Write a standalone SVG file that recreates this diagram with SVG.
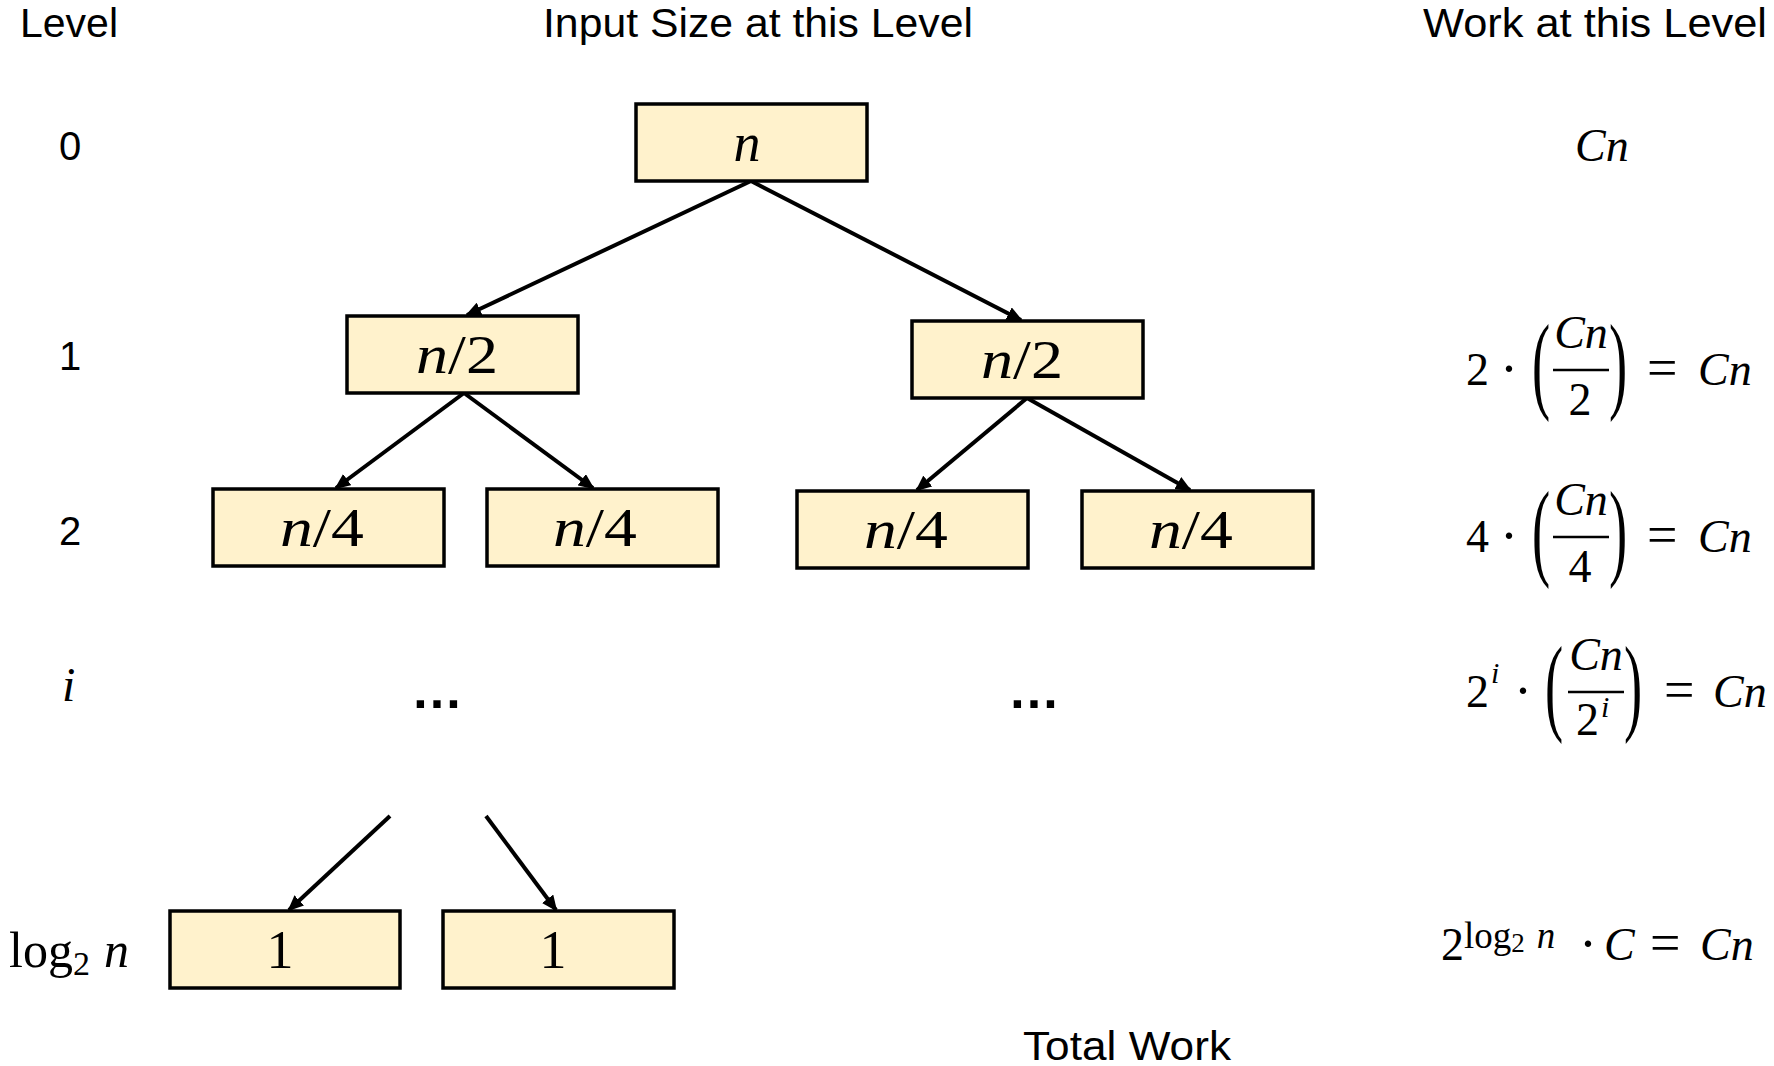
<svg xmlns="http://www.w3.org/2000/svg" width="1774" height="1066" viewBox="0 0 1774 1066">
<style>
.hdr{font-family:"Liberation Sans",Arial,sans-serif;font-size:41px;fill:#000}
.lvl{font-family:"Liberation Sans",Arial,sans-serif;font-size:40px;fill:#000;text-anchor:middle}
.m{font-family:"Liberation Serif","Times New Roman",serif;font-size:46px;fill:#000}
.eq{font-size:54px}
.dot{font-size:54px}
.par{font-size:109px}
.nl{font-family:"Liberation Serif","Times New Roman",serif;font-size:54px;fill:#000;text-anchor:middle}
.it{font-style:italic}
.box{fill:#FFF2CC;stroke:#000;stroke-width:3.5}
.edge{stroke:#000;stroke-width:4;fill:none;marker-end:url(#ah)}
.frac{stroke:#000;stroke-width:2.5}
.dots{font-family:"Liberation Sans",Arial,sans-serif;font-size:52px;font-weight:bold;text-anchor:middle}
</style>
<defs>
<marker id="ah" markerUnits="userSpaceOnUse" markerWidth="16" markerHeight="14" refX="14" refY="7" orient="auto">
<path d="M0,0 L16,7 L0,14 Z" fill="#000"/>
</marker>
</defs>
<rect width="1774" height="1066" fill="#fff"/>

<g id="headers">
<text class="hdr" x="20" y="37" textLength="98" lengthAdjust="spacingAndGlyphs">Level</text>
<text class="hdr" x="543" y="37" textLength="430" lengthAdjust="spacingAndGlyphs">Input Size at this Level</text>
<text class="hdr" x="1423" y="37" textLength="344" lengthAdjust="spacingAndGlyphs">Work at this Level</text>
<text class="hdr" x="1023" y="1060" textLength="208" lengthAdjust="spacingAndGlyphs">Total Work</text>
</g>

<g id="levels">
<text class="lvl" x="70" y="160">0</text>
<text class="lvl" x="70" y="370">1</text>
<text class="lvl" x="70" y="545">2</text>
<text class="m it" x="62" y="701" style="font-size:48px">i</text>
<text class="m" x="9" y="967" style="font-size:50px">log<tspan style="font-size:34px" dy="8">2</tspan><tspan class="it" dx="14" dy="-8" style="font-size:50px">n</tspan></text>
</g>

<g id="connectors">
<line class="edge" x1="751" y1="181" x2="467" y2="315"/>
<line class="edge" x1="751" y1="181" x2="1021" y2="320"/>
<line class="edge" x1="464" y1="393" x2="336" y2="488"/>
<line class="edge" x1="464" y1="393" x2="593" y2="488"/>
<line class="edge" x1="1027" y1="398" x2="917" y2="490"/>
<line class="edge" x1="1027" y1="398" x2="1190" y2="490"/>
<line class="edge" x1="390" y1="816" x2="289" y2="910"/>
<line class="edge" x1="486" y1="816" x2="556" y2="910"/>
</g>

<g id="node-root"><rect class="box" x="636" y="104" width="231" height="77"/><text class="nl it" x="747" y="161">n</text></g>
<g id="node-l1a"><rect class="box" x="347" y="316" width="231" height="77"/><text class="nl" x="457" y="373" textLength="82" lengthAdjust="spacingAndGlyphs"><tspan class="it">n</tspan>/2</text></g>
<g id="node-l1b"><rect class="box" x="912" y="321" width="231" height="77"/><text class="nl" x="1022" y="378" textLength="82" lengthAdjust="spacingAndGlyphs"><tspan class="it">n</tspan>/2</text></g>
<g id="node-l2a"><rect class="box" x="213" y="489" width="231" height="77"/><text class="nl" x="322" y="546" textLength="84" lengthAdjust="spacingAndGlyphs"><tspan class="it">n</tspan>/4</text></g>
<g id="node-l2b"><rect class="box" x="487" y="489" width="231" height="77"/><text class="nl" x="595" y="546" textLength="84" lengthAdjust="spacingAndGlyphs"><tspan class="it">n</tspan>/4</text></g>
<g id="node-l2c"><rect class="box" x="797" y="491" width="231" height="77"/><text class="nl" x="906" y="548" textLength="84" lengthAdjust="spacingAndGlyphs"><tspan class="it">n</tspan>/4</text></g>
<g id="node-l2d"><rect class="box" x="1082" y="491" width="231" height="77"/><text class="nl" x="1191" y="548" textLength="84" lengthAdjust="spacingAndGlyphs"><tspan class="it">n</tspan>/4</text></g>
<g id="node-leafa"><rect class="box" x="170" y="911" width="230" height="77"/><text class="nl" x="280" y="968">1</text></g>
<g id="node-leafb"><rect class="box" x="443" y="911" width="231" height="77"/><text class="nl" x="553" y="968">1</text></g>

<g id="ellipses">
<text class="dots" x="437" y="708">…</text>
<text class="dots" x="1034" y="708">…</text>
</g>

<g id="work">
<text class="m it" x="1575" y="161">Cn</text>

<g id="work1">
<text class="m" x="1466" y="385">2</text>
<text class="m dot" x="1500" y="387">·</text>
<text class="m par" transform="translate(1532,399) scale(0.5,1)">(</text>
<text class="m it" x="1581" y="348" text-anchor="middle">Cn</text>
<line class="frac" x1="1553" y1="370" x2="1609" y2="370"/>
<text class="m" x="1580" y="415" text-anchor="middle">2</text>
<text class="m par" transform="translate(1609,399) scale(0.5,1)">)</text>
<text class="m eq" x="1647" y="386">=</text>
<text class="m it" x="1698" y="385">Cn</text>
</g>

<g id="work2" transform="translate(0,167)">
<text class="m" x="1466" y="385">4</text>
<text class="m dot" x="1500" y="387">·</text>
<text class="m par" transform="translate(1532,399) scale(0.5,1)">(</text>
<text class="m it" x="1581" y="348" text-anchor="middle">Cn</text>
<line class="frac" x1="1553" y1="370" x2="1609" y2="370"/>
<text class="m" x="1580" y="415" text-anchor="middle">4</text>
<text class="m par" transform="translate(1609,399) scale(0.5,1)">)</text>
<text class="m eq" x="1647" y="386">=</text>
<text class="m it" x="1698" y="385">Cn</text>
</g>

<g id="worki">
<text class="m" x="1466" y="707">2<tspan class="it" style="font-size:30px" dy="-24" dx="2">i</tspan></text>
<text class="m dot" x="1514" y="709">·</text>
<text class="m par" transform="translate(1545,721) scale(0.5,1)">(</text>
<text class="m it" x="1596" y="670" text-anchor="middle">Cn</text>
<line class="frac" x1="1568" y1="692" x2="1624" y2="692"/>
<text class="m" x="1576" y="735">2<tspan class="it" style="font-size:30px" dy="-18" dx="2">i</tspan></text>
<text class="m par" transform="translate(1624,721) scale(0.5,1)">)</text>
<text class="m eq" x="1664" y="708">=</text>
<text class="m it" x="1713" y="707">Cn</text>
</g>

<g id="worklog">
<text class="m" x="1441" y="960">2<tspan style="font-size:37px" dy="-12">log</tspan><tspan style="font-size:27px" dy="4">2</tspan><tspan class="it" style="font-size:37px" dx="12" dy="-4">n</tspan></text>
<text class="m dot" x="1579" y="962">·</text>
<text class="m it" x="1604" y="960">C</text>
<text class="m eq" x="1650" y="961">=</text>
<text class="m it" x="1700" y="960">Cn</text>
</g>
</g>
</svg>
